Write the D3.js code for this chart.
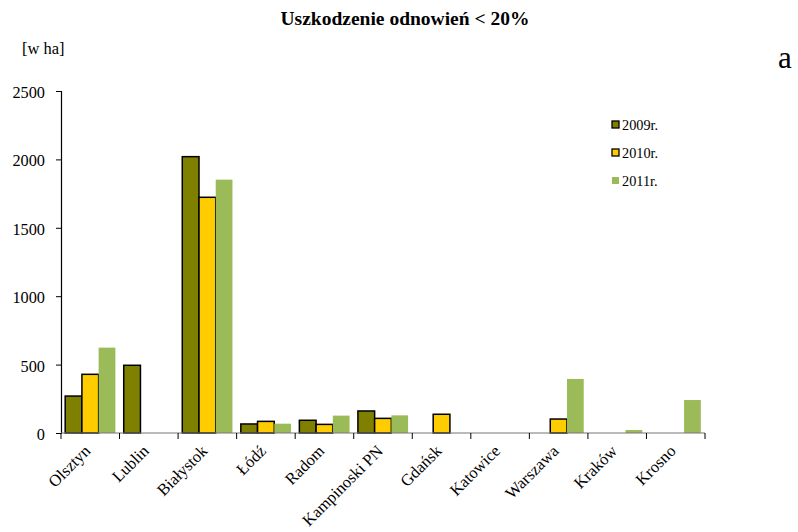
<!DOCTYPE html>
<html>
<head>
<meta charset="utf-8">
<script src="https://cdn.jsdelivr.net/npm/d3@7"></script>
<style>
  body { margin: 0; background: #fff; }
  svg { display: block; }
</style>
</head>
<body>
<svg id="chart" width="798" height="532"></svg>
<script>
// Damaged plantations (< 20%) by regional directorate, hectares
const categories = ["Olsztyn", "Lublin", "Białystok", "Łódź", "Radom", "Kampinoski PN",
                    "Gdańsk", "Katowice", "Warszawa", "Kraków", "Krosno"];
const seriesNames = ["2009r.", "2010r.", "2011r."];
const values2009 = [270, 495, 2020, 66, 93, 161, 0, 0, 0, 0, 0];
const values2010 = [429, 0, 1723, 85, 63, 107, 137, 0, 102, 0, 0];
const values2011 = [624, 0, 1852, 68, 127, 129, 0, 0, 395, 22, 241];
const yTicks = [0, 500, 1000, 1500, 2000, 2500];

(function () {
  const FONT = "'Liberation Serif', 'Times New Roman', serif";
  const series = [values2009, values2010, values2011];
  const colors = ["#808000", "#ffcc00", "#9bbb59"];
  const strokes = ["#000", "#000", "none"];

  const svg = d3.select("#chart");
  const plotLeft = 61, plotRight = 705, plotTop = 91, plotBottom = 433;

  const x = d3.scaleBand().domain(categories).range([plotLeft, plotRight]).paddingInner(0).paddingOuter(0);
  const xInner = d3.scaleBand().domain(d3.range(3)).range([0, x.bandwidth()]).paddingInner(0).paddingOuter(0.25);
  const y = d3.scaleLinear().domain([0, 2500]).range([plotBottom, plotTop]);

  const txt = (sel) => sel.attr("font-family", FONT).attr("fill", "#000");

  // title and captions
  svg.append("text").attr("x", 405).attr("y", 25).attr("text-anchor", "middle")
    .attr("font-weight", "bold").attr("font-size", 19.5).call(txt).text("Uszkodzenie odnowień < 20%");
  svg.append("text").attr("x", 22).attr("y", 54).attr("font-size", 16.5).call(txt).text("[w ha]");
  svg.append("text").attr("x", 778).attr("y", 68).attr("font-size", 31).call(txt).text("a");

  // bars
  const groups = svg.append("g");
  series.forEach((vals, si) => {
    groups.selectAll(null).data(categories.map((c, i) => ({ c, v: vals[i] })).filter(d => d.v > 0))
      .enter().append("rect")
      .attr("x", d => x(d.c) + xInner(si))
      .attr("y", d => y(d.v))
      .attr("width", xInner.bandwidth())
      .attr("height", d => plotBottom - y(d.v))
      .attr("fill", colors[si])
      .attr("stroke", strokes[si])
      .attr("stroke-width", 1.5);
  });

  // y axis
  const yAxis = svg.append("g").attr("transform", `translate(${plotLeft},0)`)
    .call(d3.axisLeft(y).tickValues(yTicks).tickSize(5).tickPadding(11).tickFormat(d3.format("d")));
  yAxis.attr("font-family", FONT);
  yAxis.select(".domain").attr("stroke", "#000").attr("stroke-width", 1.2);
  yAxis.selectAll(".tick line").attr("stroke", "#000");
  yAxis.selectAll("text").attr("font-size", 16.3).attr("dy", "0.4em").call(txt);

  // x axis with ticks at category boundaries
  const bounds = categories.map(c => x(c)).concat([plotRight]);
  svg.append("line").attr("x1", plotLeft).attr("x2", plotRight).attr("y1", plotBottom).attr("y2", plotBottom)
    .attr("stroke", "#777").attr("stroke-width", 1.2);
  svg.append("g").selectAll("line").data(bounds).enter().append("line")
    .attr("x1", d => d).attr("x2", d => d).attr("y1", plotBottom).attr("y2", plotBottom + 6)
    .attr("stroke", "#000");
  svg.append("g").selectAll("text").data(categories).enter().append("text")
    .attr("transform", d => `translate(${x(d) + x.bandwidth() / 2 + 1},${plotBottom + 19}) rotate(-45)`)
    .attr("text-anchor", "end").attr("font-size", 16.5).call(txt).text(d => d);

  // legend
  const legend = svg.append("g");
  seriesNames.forEach((name, i) => {
    const ly = 124.5 + i * 28;
    legend.append("rect").attr("x", 612).attr("y", ly - 3.5).attr("width", 7).attr("height", 7)
      .attr("fill", colors[i]).attr("stroke", strokes[i]).attr("stroke-width", 1.3);
    legend.append("text").attr("x", 622).attr("y", ly + 5).attr("font-size", 14.3).call(txt).text(name);
  });
})();
</script>
</body>
</html>
